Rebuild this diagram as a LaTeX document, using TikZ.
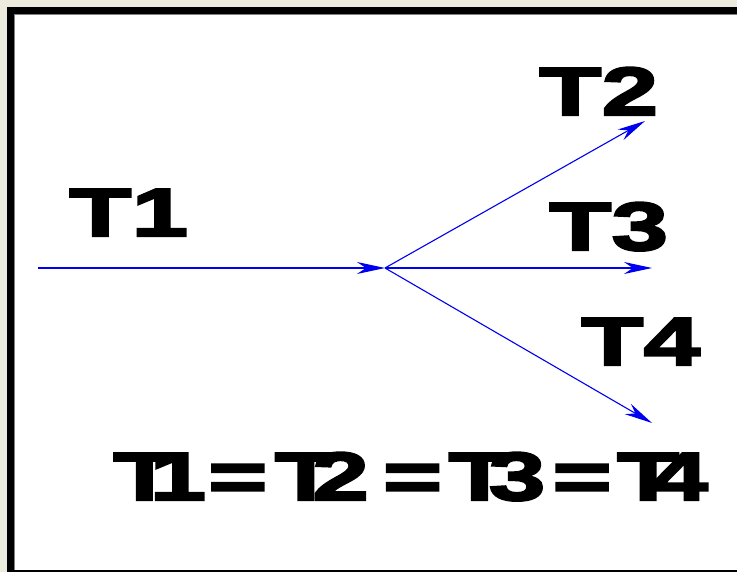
\documentclass[tikz,border=0pt]{standalone}
\usepackage{fontspec}
\usepackage{tikz}
\usetikzlibrary{arrows.meta, positioning, calc}
\newfontfamily\lblfont[FakeStretch=1.5,FakeBold=3.5]{Liberation Sans Bold}
\definecolor{paper}{HTML}{ECEBDD}
\definecolor{rayblue}{HTML}{0000F0}

\begin{document}
\begin{tikzpicture}[x=1pt, y=-1pt, >={Stealth[length=28pt, width=12pt, inset=9pt]},
    ray/.style={->, rayblue, line width=1.1pt},
    lbl/.style={font=\lblfont\fontsize{68}{68}\selectfont, inner sep=0pt, anchor=base west}]
  \useasboundingbox (0,0) rectangle (737,572);
  % frame
  \fill[paper] (0,0) rectangle (737,572);
  \fill[black] (7,7) rectangle (737,572);
  \fill[gray] (14,14) rectangle (737,570);
  \fill[white] (15,15) rectangle (737,570);
  % rays
  \coordinate (s) at (38,268);
  \coordinate (j) at (385,268);
  \coordinate (e2) at (645,121);
  \coordinate (e3) at (652,268);
  \coordinate (e4) at (652,423);
  \draw[ray] (s) -- (j);
  \draw[ray] (j) -- (e2);
  \draw[ray] (j) -- (e3);
  \draw[ray] (j) -- (e4);
  % labels
  \node[lbl] (t1) at (69,236) {T1};
  \node[lbl] (t2) at (539,115) {T2};
  \node[lbl] (t3) at (549,250) {T3};
  \node[lbl] (t4) at (581,365) {T4};
  \node[lbl] (eq) at (113,500) {T\kern-26pt 1\kern2pt=\kern7pt T\kern-25pt 2\kern14pt=\kern6pt T\kern-22pt 3\kern7pt=\kern5pt T\kern-28pt 4};
\end{tikzpicture}
\end{document}
